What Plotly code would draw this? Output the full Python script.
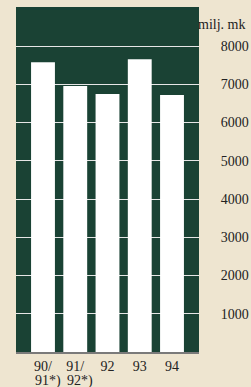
import plotly.graph_objects as go

categories = ["90/91", "91/92", "92", "93", "94"]
tick_text = ["90/", "91/", "92", "93", "94"]
sub_labels = {"90/91": "91*)", "91/92": "92*)"}
values = [7575, 6955, 6745, 7655, 6720]
y_ticks = [1000, 2000, 3000, 4000, 5000, 6000, 7000, 8000]

FONT = "Liberation Serif"
fig = go.Figure()
fig.add_trace(go.Bar(
    x=categories, y=values, marker=dict(color="white", line=dict(width=0)),
    width=0.74, showlegend=False, hoverinfo="skip",
))

for c, t in sub_labels.items():
    fig.add_annotation(x=c, y=0, xref="x", yref="paper", text=t, showarrow=False,
                       yanchor="top", yshift=-20, xshift=5, borderpad=0,
                       font=dict(family=FONT, size=14, color="#222"))

fig.add_annotation(x=1, y=1, xref="paper", yref="paper", text="milj. mk", showarrow=False,
                   xanchor="right", yanchor="middle", xshift=48, yshift=-17,
                   font=dict(family=FONT, size=14, color="#222"))

fig.update_layout(
    width=251, height=387,
    margin=dict(l=16, r=52, t=7, b=35, autoexpand=False),
    paper_bgcolor="#eee5d0",
    plot_bgcolor="#1a4234",
    bargap=0.26,
    xaxis=dict(
        type="category", range=[-0.837, 4.837], automargin=False,
        tickvals=categories, ticktext=tick_text,
        showgrid=False, zeroline=False,
        showline=True, linecolor="#7a7a7a", linewidth=2,
        ticks="", 
        tickfont=dict(family=FONT, size=14, color="#222"),
        fixedrange=True,
    ),
    yaxis=dict(
        side="right", range=[0, 9020], automargin=False,
        tickvals=y_ticks, ticktext=[str(v) for v in y_ticks],
        showgrid=True, gridcolor="#e6e6e6", gridwidth=1,
        zeroline=False, showline=False,
        ticks="outside", ticklen=18, tickcolor="rgba(0,0,0,0)",
        tickfont=dict(family=FONT, size=14, color="#222"),
        fixedrange=True,
    ),
)

fig.write_html("out.html", config={"displayModeBar": False},
               post_script="document.body.style.margin='0';document.body.style.overflow='hidden';document.body.style.background='#eee5d0';")
